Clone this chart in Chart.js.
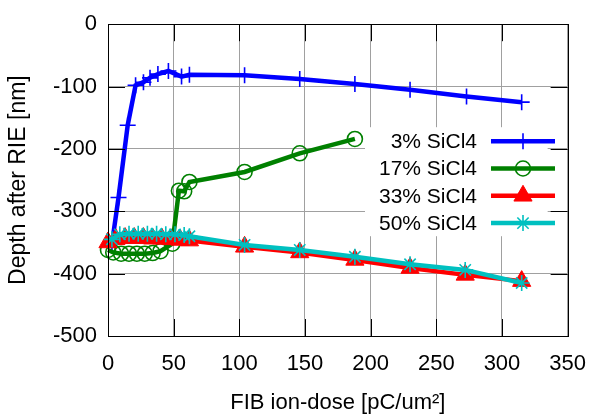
<!DOCTYPE html>
<html>
<head>
<meta charset="utf-8">
<script src="https://cdn.jsdelivr.net/npm/chart.js@4.4.1/dist/chart.umd.min.js"></script>
<style>
  html, body { margin: 0; padding: 0; background: #ffffff; }
  #wrap { width: 601px; height: 414px; }
</style>
</head>
<body>
<div id="wrap"><canvas id="c" width="601" height="414"></canvas></div>
<script>
// ---- data ----
const seriesNames = ['3% SiCl4', '17% SiCl4', '33% SiCl4', '50% SiCl4'];

const dose3  = [3, 8, 15, 21, 27, 32, 38, 46, 56, 62, 104, 146, 188, 230, 273, 315];
const depth3 = [-352, -278, -162, -98, -93, -86, -80, -75, -84, -81, -82, -88, -96, -105, -116, -125];

const dose17  = [0, 4, 10, 16, 22, 28, 34, 40, 49, 54, 58, 62, 104, 146, 188];
const depth17 = [-362, -366, -368, -368, -368, -368, -367, -364, -352, -267, -268, -253, -237, -207, -184];

const dose33  = [0, 6, 13, 20, 27, 34, 41, 48, 55, 62, 104, 146, 188, 230, 272, 315];
const depth33 = [-350, -345, -343, -343, -343, -344, -344, -345, -346, -347, -357, -366, -378, -391, -402, -412];

const dose50  = [3, 9, 16, 23, 30, 37, 44, 51, 58, 62, 104, 146, 188, 230, 272, 315];
const depth50 = [-345, -337, -336, -336, -336, -336, -337, -337, -338, -340, -354, -362, -373, -385, -394, -415];

const xTicks = [0, 50, 100, 150, 200, 250, 300, 350];
const yTicks = [0, -100, -200, -300, -400, -500];

const xTitle = 'FIB ion-dose [pC/um\u00B2]';
const yTitle = 'Depth after RIE [nm]';

// ---- build ----
function pts(xs, ys) { return xs.map((x, i) => ({ x: x, y: ys[i] })); }

const FONT = '"Liberation Sans", Arial, sans-serif';

const datasets = [
  { label: seriesNames[0], data: pts(dose3, depth3), borderColor: '#0000ff', backgroundColor: '#0000ff',
    pointStyle: 'cross', pointRadius: 8, pointBorderWidth: 1.6, borderWidth: 4.5, order: 4 },
  { label: seriesNames[1], data: pts(dose17, depth17), borderColor: '#008000', backgroundColor: 'rgba(0,0,0,0)',
    pointStyle: 'circle', pointRadius: 7.5, pointBorderWidth: 1.6, borderWidth: 4.5, order: 3 },
  { label: seriesNames[2], data: pts(dose33, depth33), borderColor: '#ff0000', backgroundColor: '#ff0000',
    pointStyle: 'triangle', pointRadius: 10.5, pointBorderWidth: 1, borderWidth: 4.5, order: 2 },
  { label: seriesNames[3], data: pts(dose50, depth50), borderColor: '#00c0c0', backgroundColor: '#00c0c0',
    pointStyle: 'star', pointRadius: 8, pointBorderWidth: 1.6, borderWidth: 4.5, order: 1 }
].map(d => Object.assign({ showLine: true, tension: 0, clip: false, pointBackgroundColor: d.backgroundColor,
  pointBorderColor: d.borderColor, fill: false }, d));

function drawMarker(ctx, ds, x, y) {
  if (Chart.helpers && Chart.helpers.drawPoint) {
    ctx.save();
    ctx.strokeStyle = ds.borderColor;
    ctx.fillStyle = ds.pointBackgroundColor;
    ctx.lineWidth = ds.pointBorderWidth;
    Chart.helpers.drawPoint(ctx, { pointStyle: ds.pointStyle, radius: ds.pointRadius, rotation: 0,
      borderWidth: ds.pointBorderWidth }, x, y);
    ctx.restore();
  }
}

const frameAndLegend = {
  id: 'frameAndLegend',
  afterDatasetsDraw(chart) {
    const ctx = chart.ctx, a = chart.chartArea;
    // legend box (white, no border) inside the plot, top right
    const boxL = a.left + 257, boxR = a.right - 20, boxT = a.top + 103, boxB = a.top + 212;
    ctx.save();
    ctx.fillStyle = '#ffffff';
    ctx.fillRect(boxL, boxT, boxR - boxL, boxB - boxT);
    const textR = a.left + 369, lineL = a.left + 383, lineR = a.left + 447;
    const rowY0 = a.top + 117, rowStep = 27.3;
    ctx.font = '21px ' + FONT;
    ctx.textAlign = 'right';
    ctx.textBaseline = 'middle';
    chart.data.datasets.forEach((ds, i) => {
      const y = rowY0 + i * rowStep;
      ctx.fillStyle = '#000000';
      ctx.fillText(ds.label, textR, y + 1);
      ctx.strokeStyle = ds.borderColor;
      ctx.lineWidth = ds.borderWidth;
      ctx.beginPath();
      ctx.moveTo(lineL, y); ctx.lineTo(lineR, y);
      ctx.stroke();
      drawMarker(ctx, ds, (lineL + lineR) / 2, y);
    });
    ctx.restore();
  },
  afterDraw(chart) {
    const ctx = chart.ctx, a = chart.chartArea;
    const xs = chart.scales.x, ys = chart.scales.y;
    const tl = 17;
    ctx.save();
    ctx.strokeStyle = '#000000';
    ctx.lineWidth = 1;
    ctx.beginPath();
    xTicks.forEach(v => {
      const p = Math.round(xs.getPixelForValue(v)) + 0.5;
      ctx.moveTo(p, a.bottom); ctx.lineTo(p, a.bottom - tl);
      ctx.moveTo(p, a.top); ctx.lineTo(p, a.top + tl);
    });
    yTicks.forEach(v => {
      const p = Math.round(ys.getPixelForValue(v)) + 0.5;
      ctx.moveTo(a.left, p); ctx.lineTo(a.left + tl, p);
      ctx.moveTo(a.right, p); ctx.lineTo(a.right - tl, p);
    });
    ctx.stroke();
    ctx.strokeRect(Math.round(a.left) + 0.5, Math.round(a.top) + 0.5,
      Math.round(a.right - a.left), Math.round(a.bottom - a.top));
    ctx.restore();
  }
};

new Chart(document.getElementById('c'), {
  type: 'scatter',
  data: { datasets: datasets },
  options: {
    responsive: false,
    animation: false,
    devicePixelRatio: 1,
    layout: { padding: { left: 0, right: 21, top: 20, bottom: 0 } },
    plugins: { legend: { display: false }, tooltip: { enabled: false } },
    scales: {
      x: {
        type: 'linear', min: 0, max: 350,
        afterBuildTicks: s => { s.ticks = xTicks.map(v => ({ value: v })); },
        afterFit: s => { s.height = 78; },
        grid: { color: '#a0a0a0', lineWidth: 1, drawTicks: false },
        border: { display: false },
        ticks: { color: '#000000', font: { family: FONT, size: 22 }, padding: 15, maxRotation: 0 },
        title: { display: true, text: xTitle, color: '#000000', font: { family: FONT, size: 22, lineHeight: 1.05 },
          padding: { top: 0, bottom: 0 } }
      },
      y: {
        type: 'linear', min: -500, max: 0,
        afterBuildTicks: s => { s.ticks = yTicks.map(v => ({ value: v })); },
        afterFit: s => { s.width = 108; },
        grid: { color: '#a0a0a0', lineWidth: 1, drawTicks: false },
        border: { display: false },
        ticks: { color: '#000000', font: { family: FONT, size: 22 }, padding: 11 },
        title: { display: true, text: yTitle, color: '#000000', font: { family: FONT, size: 23, lineHeight: 1.1 },
          padding: { top: 6, bottom: 0 } }
      }
    }
  },
  plugins: [frameAndLegend]
});
</script>
</body>
</html>
